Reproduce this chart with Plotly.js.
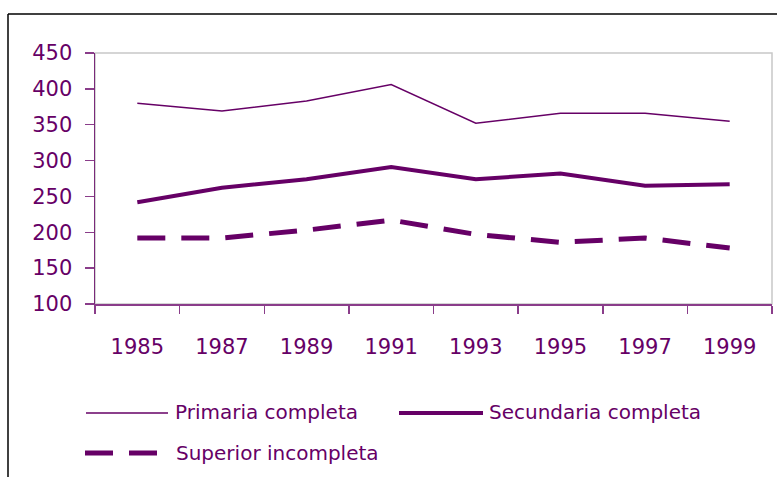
<!DOCTYPE html>
<html>
<head>
<meta charset="utf-8">
<script src="https://cdn.plot.ly/plotly-3.0.1.min.js"></script>
<style>
  html, body { margin: 0; padding: 0; background: #fff; }
  #grafico { width: 777px; height: 477px; }
</style>
</head>
<body>
<div id="grafico"></div>
<script>
    // Años (categorías del eje X)
    var anios = ['1985', '1987', '1989', '1991', '1993', '1995', '1997', '1999'];

    // Valores
    var primaria = [380, 369, 383, 406, 352, 366, 366, 355];
    var secundaria = [242, 262, 274, 291, 274, 282, 265, 267];
    var superior = [192, 192, 203, 217, 197, 186, 192, 178];

    var nombres = ['Primaria completa', 'Secundaria completa', 'Superior incompleta'];

    var morado = '#660066';
    var fuente = '"Comic Sans MS", "DejaVu Sans", sans-serif';

    // Márgenes en píxeles -> zona de trazado 95..772 x 53..304
    var W = 777, H = 477;
    var m = { l: 95, r: 5, t: 53, b: 173 };
    var pw = W - m.l - m.r, ph = H - m.t - m.b;
    function px(x) { return (x - m.l) / pw; }
    function py(y) { return (H - m.b - y) / ph; }

    var trazas = [
        { x: anios, y: primaria, name: nombres[0], type: 'scatter', mode: 'lines',
          line: { color: morado, width: 1.5 } },
        { x: anios, y: secundaria, name: nombres[1], type: 'scatter', mode: 'lines',
          line: { color: morado, width: 4 } },
        { x: anios, y: superior, name: nombres[2], type: 'scatter', mode: 'lines',
          line: { color: morado, width: 5, dash: '28px,16px' } }
    ];

    // Marco exterior, borde gris de la zona de trazado y leyenda dibujada a mano
    var formas = [
        { type: 'line', xref: 'paper', yref: 'paper', x0: px(8), x1: px(800), y0: py(14), y1: py(14),
          line: { color: '#000', width: 1.5 } },
        { type: 'line', xref: 'paper', yref: 'paper', x0: px(8), x1: px(8), y0: py(14), y1: py(500),
          line: { color: '#000', width: 1.5 } },
        { type: 'rect', xref: 'paper', yref: 'paper', x0: 0, x1: 1, y0: 0, y1: 1, layer: 'below',
          line: { color: '#c8c8c8', width: 1.5 } },
        // leyenda
        { type: 'line', xref: 'paper', yref: 'paper', x0: px(86), x1: px(168), y0: py(413), y1: py(413),
          line: { color: morado, width: 1.5 } },
        { type: 'line', xref: 'paper', yref: 'paper', x0: px(399), x1: px(483), y0: py(413), y1: py(413),
          line: { color: morado, width: 4 } },
        { type: 'line', xref: 'paper', yref: 'paper', x0: px(85), x1: px(158), y0: py(453), y1: py(453),
          line: { color: morado, width: 5, dash: '28px,16px' } }
    ];

    var textos = [
        { text: nombres[0], x: px(173), y: py(412) },
        { text: nombres[1], x: px(487), y: py(412) },
        { text: nombres[2], x: px(174), y: py(453) }
    ].map(function(a) {
        return { text: a.text, x: a.x, y: a.y, xref: 'paper', yref: 'paper',
                 xanchor: 'left', yanchor: 'middle', showarrow: false,
                 font: { family: fuente, size: 20, color: morado } };
    });

    var layout = {
        width: W, height: H,
        margin: m,
        paper_bgcolor: '#fff',
        plot_bgcolor: '#fff',
        showlegend: false,
        font: { family: fuente, color: morado, size: 21 },
        xaxis: {
            type: 'category',
            range: [-0.5, 7.5],
            showgrid: false, zeroline: false,
            showline: true, linecolor: '#8a3d8a', linewidth: 2,
            ticks: 'outside', tickson: 'boundaries', ticklen: 8, tickcolor: '#8a3d8a', tickwidth: 1.5,
            ticklabelstandoff: 23,
            tickfont: { family: fuente, size: 21, color: morado }
        },
        yaxis: {
            range: [100, 450], dtick: 50, tick0: 100,
            showgrid: false, zeroline: false,
            showline: true, linecolor: '#7a2a7a', linewidth: 1.5,
            ticks: 'outside', ticklen: 9, tickcolor: '#8a3d8a', tickwidth: 1.5,
            ticklabelstandoff: 8,
            tickfont: { family: fuente, size: 21, color: morado }
        },
        shapes: formas,
        annotations: textos
    };

    Plotly.newPlot('grafico', trazas, layout, { staticPlot: true });
</script>
</body>
</html>
